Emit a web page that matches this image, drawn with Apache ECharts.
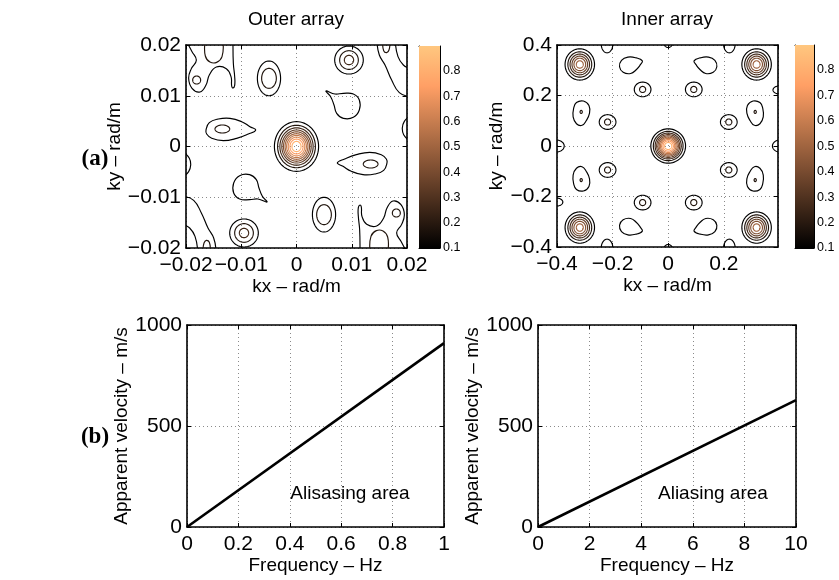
<!DOCTYPE html>
<html><head><meta charset="utf-8">
<script src="https://cdn.jsdelivr.net/npm/echarts@6/dist/echarts.min.js"></script>
<style>html,body{margin:0;padding:0;background:#fff}#c{width:839px;height:580px}</style>
</head><body><div id="c"></div>
<script>
// ================= DATA =================
// Contour rings: [level, kx, ky, rx, ry]  (rad/m)
const outerRings = [
  [0.10, 0, 0, 0.00400, 0.00490], [0.18, 0, 0, 0.00342, 0.00419], [0.26, 0, 0, 0.00301, 0.00368],
  [0.34, 0, 0, 0.00266, 0.00326], [0.42, 0, 0, 0.00236, 0.00289], [0.50, 0, 0, 0.00207, 0.00253],
  [0.58, 0, 0, 0.00179, 0.00219], [0.66, 0, 0, 0.00150, 0.00184], [0.74, 0, 0, 0.00119, 0.00146],
  [0.82, 0, 0, 0.00082, 0.00101],
  [0.10, -0.00498, 0.01343, 0.00210, 0.00342], [0.18, -0.00498, 0.01343, 0.00133, 0.00197],
  [0.10, 0.00498, -0.01343, 0.00210, 0.00342], [0.18, 0.00498, -0.01343, 0.00133, 0.00197],
  [0.10, 0.0095, 0.01704, 0.00259, 0.00276], [0.18, 0.0095, 0.01704, 0.00169, 0.00184], [0.26, 0.0095, 0.01704, 0.00084, 0.00092],
  [0.10, -0.0095, -0.01704, 0.00259, 0.00276], [0.18, -0.0095, -0.01704, 0.00169, 0.00184], [0.26, -0.0095, -0.01704, 0.00084, 0.00092],
  [0.18, -0.01342, 0.00345, 0.00133, 0.00079], [0.18, 0.01342, -0.00345, 0.00133, 0.00079],
  [0.18, -0.01807, 0.0131, 0.00072, 0.00079], [0.18, 0.01807, -0.0131, 0.00072, 0.00079]
];
// Irregular contours: level, closed, vertices [kx, ky]
const outerCurves = [
  {level: 0.10, closed: true, pts: [[-0.01638,0.00325],[-0.01578,0.0047],[-0.01415,0.00542],[-0.01204,0.00555],[-0.00992,0.00489],[-0.00842,0.00391],[-0.00739,0.00325],[-0.00872,0.00246],[-0.01083,0.00161],[-0.01324,0.00115],[-0.01535,0.00161],[-0.01626,0.00246]]},
  {level: 0.10, closed: true, pts: [[0.01638,-0.00325],[0.01578,-0.0047],[0.01415,-0.00542],[0.01204,-0.00555],[0.00992,-0.00489],[0.00842,-0.00391],[0.00739,-0.00325],[0.00872,-0.00246],[0.01083,-0.00161],[0.01324,-0.00115],[0.01535,-0.00161],[0.01626,-0.00246]]},
  {level: 0.10, closed: true, pts: [[0.00534,0.01094],[0.00697,0.01034],[0.00848,0.01048],[0.01029,0.01034],[0.01137,0.00916],[0.01137,0.00719],[0.01029,0.00575],[0.00848,0.00555],[0.00727,0.00654],[0.00679,0.00818],[0.00618,0.00982]]},
  {level: 0.10, closed: true, pts: [[-0.00534,-0.01094],[-0.00697,-0.01034],[-0.00848,-0.01048],[-0.01029,-0.01034],[-0.01137,-0.00916],[-0.01137,-0.00719],[-0.01029,-0.00575],[-0.00848,-0.00555],[-0.00727,-0.00654],[-0.00679,-0.00818],[-0.00618,-0.00982]]},
  {level: 0.10, closed: false, pts: [[-0.01982,0.0205],[-0.01891,0.01869],[-0.01813,0.01698],[-0.01903,0.01534],[-0.01952,0.01343],[-0.01891,0.01146],[-0.01747,0.01074],[-0.01638,0.01212],[-0.01578,0.01409],[-0.01451,0.01566],[-0.0127,0.01534],[-0.01185,0.01376],[-0.01173,0.01192],[-0.01149,0.01153],[-0.01119,0.01205],[-0.01119,0.01376],[-0.01143,0.01639],[-0.01149,0.0205]]},
  {level: 0.10, closed: false, pts: [[0.01982,-0.0205],[0.01891,-0.01869],[0.01813,-0.01698],[0.01903,-0.01534],[0.01952,-0.01343],[0.01891,-0.01146],[0.01747,-0.01074],[0.01638,-0.01212],[0.01578,-0.01409],[0.01451,-0.01566],[0.0127,-0.01534],[0.01185,-0.01376],[0.01173,-0.01192],[0.01149,-0.01153],[0.01119,-0.01205],[0.01119,-0.01376],[0.01143,-0.01639],[0.01149,-0.0205]]},
  {level: 0.18, closed: false, pts: [[-0.01656,0.0205],[-0.0165,0.01783],[-0.01566,0.01665],[-0.01445,0.01658],[-0.01348,0.0177],[-0.0133,0.0205]]},
  {level: 0.18, closed: false, pts: [[0.01656,-0.0205],[0.0165,-0.01783],[0.01566,-0.01665],[0.01445,-0.01658],[0.01348,-0.0177],[0.0133,-0.0205]]},
  {level: 0.10, closed: false, pts: [[0.01457,0.0205],[0.01499,0.01803],[0.01602,0.01606],[0.01722,0.0131],[0.01861,0.01061],[0.0205,0.00982]]},
  {level: 0.10, closed: false, pts: [[-0.01457,-0.0205],[-0.01499,-0.01803],[-0.01602,-0.01606],[-0.01722,-0.0131],[-0.01861,-0.01061],[-0.0205,-0.00982]]},
  {level: 0.18, closed: false, pts: [[0.0156,0.0205],[0.01578,0.01888],[0.01632,0.01849],[0.01674,0.01901],[0.01692,0.0205]]},
  {level: 0.18, closed: false, pts: [[-0.0156,-0.0205],[-0.01578,-0.01888],[-0.01632,-0.01849],[-0.01674,-0.01901],[-0.01692,-0.0205]]},
  {level: 0.10, closed: false, pts: [[0.01789,0.0205],[0.01837,0.0177],[0.01934,0.01606],[0.0205,0.0154]]},
  {level: 0.10, closed: false, pts: [[-0.01789,-0.0205],[-0.01837,-0.0177],[-0.01934,-0.01606],[-0.0205,-0.0154]]},
  {level: 0.10, closed: false, pts: [[-0.0205,-0.00102],[-0.0194,-0.00233],[-0.01915,-0.00365],[-0.01952,-0.00496],[-0.0205,-0.00594]]},
  {level: 0.10, closed: false, pts: [[0.0205,0.00102],[0.0194,0.00233],[0.01915,0.00365],[0.01952,0.00496],[0.0205,0.00594]]}
];

const innerRings = [
  [0.10, 0, 0, 0.0625, 0.0680], [0.18, 0, 0, 0.0535, 0.0582], [0.26, 0, 0, 0.0470, 0.0511],
  [0.34, 0, 0, 0.0416, 0.0453], [0.42, 0, 0, 0.0368, 0.0400], [0.50, 0, 0, 0.0323, 0.0352],
  [0.58, 0, 0, 0.0279, 0.0304], [0.66, 0, 0, 0.0235, 0.0256], [0.74, 0, 0, 0.0186, 0.0203],
  [0.82, 0, 0, 0.0129, 0.0140],
  [0.10, -0.318, 0.323, 0.053, 0.062], [0.18, -0.318, 0.323, 0.0429, 0.0502], [0.26, -0.318, 0.323, 0.0351, 0.0411],
  [0.34, -0.318, 0.323, 0.0281, 0.0329], [0.42, -0.318, 0.323, 0.0211, 0.0247], [0.50, -0.318, 0.323, 0.0125, 0.0146],
  [0.10, 0.318, 0.323, 0.053, 0.062], [0.18, 0.318, 0.323, 0.0429, 0.0502], [0.26, 0.318, 0.323, 0.0351, 0.0411],
  [0.34, 0.318, 0.323, 0.0281, 0.0329], [0.42, 0.318, 0.323, 0.0211, 0.0247], [0.50, 0.318, 0.323, 0.0125, 0.0146],
  [0.10, -0.318, -0.323, 0.053, 0.062], [0.18, -0.318, -0.323, 0.0429, 0.0502], [0.26, -0.318, -0.323, 0.0351, 0.0411],
  [0.34, -0.318, -0.323, 0.0281, 0.0329], [0.42, -0.318, -0.323, 0.0211, 0.0247], [0.50, -0.318, -0.323, 0.0125, 0.0146],
  [0.10, 0.318, -0.323, 0.053, 0.062], [0.18, 0.318, -0.323, 0.0429, 0.0502], [0.26, 0.318, -0.323, 0.0351, 0.0411],
  [0.34, 0.318, -0.323, 0.0281, 0.0329], [0.42, 0.318, -0.323, 0.0211, 0.0247], [0.50, 0.318, -0.323, 0.0125, 0.0146],
  [0.10, -0.092, 0.224, 0.030, 0.029], [0.18, -0.092, 0.224, 0.011, 0.012],
  [0.10, 0.092, 0.224, 0.030, 0.029], [0.18, 0.092, 0.224, 0.011, 0.012],
  [0.10, -0.092, -0.224, 0.030, 0.029], [0.18, -0.092, -0.224, 0.011, 0.012],
  [0.10, 0.092, -0.224, 0.030, 0.029], [0.18, 0.092, -0.224, 0.011, 0.012],
  [0.10, -0.218, 0.095, 0.030, 0.029], [0.18, -0.218, 0.095, 0.011, 0.012],
  [0.10, 0.218, 0.095, 0.030, 0.029], [0.18, 0.218, 0.095, 0.011, 0.012],
  [0.10, -0.218, -0.095, 0.030, 0.029], [0.18, -0.218, -0.095, 0.011, 0.012],
  [0.10, 0.218, -0.095, 0.030, 0.029], [0.18, 0.218, -0.095, 0.011, 0.012],
  [0.18, -0.313, 0.135, 0.004, 0.006], [0.18, 0.313, 0.135, 0.004, 0.006],
  [0.18, -0.313, -0.135, 0.004, 0.006], [0.18, 0.313, -0.135, 0.004, 0.006],
  [0.10, -0.22, 0.405, 0.021, 0.036], [0.10, 0, 0.41, 0.016, 0.020], [0.10, 0.22, 0.405, 0.021, 0.036],
  [0.10, -0.22, -0.405, 0.021, 0.036], [0.10, 0, -0.41, 0.016, 0.020], [0.10, 0.22, -0.405, 0.021, 0.036],
  [0.10, -0.405, 0, 0.031, 0.024], [0.10, -0.403, -0.222, 0.024, 0.016],
  [0.10, 0.403, 0, 0.028, 0.024], [0.10, 0.401, 0.222, 0.024, 0.016]
];
const innerCurves = [
  {level: 0.10, closed: true, pts: [[0.093,0.337],[0.115,0.349],[0.145,0.352],[0.168,0.339],[0.175,0.314],[0.162,0.292],[0.135,0.287],[0.115,0.302],[0.1,0.322]]},
  {level: 0.10, closed: true, pts: [[-0.093,0.337],[-0.115,0.349],[-0.145,0.352],[-0.168,0.339],[-0.175,0.314],[-0.162,0.292],[-0.135,0.287],[-0.115,0.302],[-0.1,0.322]]},
  {level: 0.10, closed: true, pts: [[0.093,-0.337],[0.115,-0.349],[0.145,-0.352],[0.168,-0.339],[0.175,-0.314],[0.162,-0.292],[0.135,-0.287],[0.115,-0.302],[0.1,-0.322]]},
  {level: 0.10, closed: true, pts: [[-0.093,-0.337],[-0.115,-0.349],[-0.145,-0.352],[-0.168,-0.339],[-0.175,-0.314],[-0.162,-0.292],[-0.135,-0.287],[-0.115,-0.302],[-0.1,-0.322]]},
  {level: 0.10, closed: true, pts: [[-0.34,0.15],[-0.33,0.172],[-0.305,0.178],[-0.285,0.16],[-0.283,0.13],[-0.295,0.1],[-0.31,0.082],[-0.33,0.088],[-0.342,0.115]]},
  {level: 0.10, closed: true, pts: [[0.34,0.15],[0.33,0.172],[0.305,0.178],[0.285,0.16],[0.283,0.13],[0.295,0.1],[0.31,0.082],[0.33,0.088],[0.342,0.115]]},
  {level: 0.10, closed: true, pts: [[-0.34,-0.15],[-0.33,-0.172],[-0.305,-0.178],[-0.285,-0.16],[-0.283,-0.13],[-0.295,-0.1],[-0.31,-0.082],[-0.33,-0.088],[-0.342,-0.115]]},
  {level: 0.10, closed: true, pts: [[0.34,-0.15],[0.33,-0.172],[0.305,-0.178],[0.285,-0.16],[0.283,-0.13],[0.295,-0.1],[0.31,-0.082],[0.33,-0.088],[0.342,-0.115]]}
];

// Colour scale (copper) and colorbar range
const copperColors = ['#000000', '#402819', '#805033', '#bf784c', '#ff9f65', '#ffc77f'];
const colorbarRange = [0.1, 0.898];

// Bottom panels: apparent velocity vs frequency
const freqOuter = [0, 1];
const velOuter = [0, 910];
const freqInner = [0, 10];
const velInner = [0, 628];
const noteText = ['Alisasing area', 'Aliasing area'];
const noteAt = [[0.634, 163], [6.78, 163]];

// ================= CHART =================
const FONT = "'Liberation Sans', Arial, Helvetica, sans-serif";
const MINUS = '\u2212';
function fmtDec(d) {
  return v => {
    if (Math.abs(v) < 1e-9) return '0';
    return (Math.round(v * Math.pow(10, d)) / Math.pow(10, d)).toFixed(d).replace('-', MINUS);
  };
}
const fmtPlain = v => String(Math.round(v * 10) / 10);

function frameAxis(gridIndex, position, min, max, interval, extra) {
  return Object.assign({
    type: 'value', gridIndex, position, min, max, interval,
    axisLine: {show: true, onZero: false, lineStyle: {color: '#000', width: 1.6}},
    axisTick: {show: true, inside: true, length: 4, lineStyle: {color: '#000', width: 1}},
    axisLabel: {show: false},
    splitLine: {show: false}
  }, extra || {});
}
function mainAxis(gridIndex, position, min, max, interval, fmt, name, nameGap, extra) {
  return frameAxis(gridIndex, position, min, max, interval, Object.assign({
    axisLabel: {show: true, fontSize: 21, color: '#000', fontFamily: FONT,
      margin: (position === 'bottom' ? 7 : 5), formatter: fmt},
    splitLine: {show: true, lineStyle: {color: '#8a8a8a', width: 1, type: [1, 3]}},
    name, nameLocation: 'middle', nameGap,
    nameTextStyle: {fontSize: 19, color: '#000', fontFamily: FONT}
  }, extra || {}));
}

const cbFrame = {show: true, onZero: false, lineStyle: {color: '#000', width: 1}};
const xAxis = [
  mainAxis(0, 'bottom', -0.02, 0.02, 0.01, fmtDec(2), 'kx \u2013 rad/m', 26),
  frameAxis(0, 'top', -0.02, 0.02, 0.01),
  frameAxis(1, 'bottom', 0, 1, 1, {axisTick: {show: false}, axisLine: cbFrame}),
  frameAxis(1, 'top', 0, 1, 1, {axisTick: {show: false}, axisLine: cbFrame}),
  mainAxis(2, 'bottom', -0.4, 0.395, 0.2, fmtDec(1), 'kx \u2013 rad/m', 26),
  frameAxis(2, 'top', -0.4, 0.395, 0.2),
  frameAxis(3, 'bottom', 0, 1, 1, {axisTick: {show: false}, axisLine: cbFrame}),
  frameAxis(3, 'top', 0, 1, 1, {axisTick: {show: false}, axisLine: cbFrame}),
  mainAxis(4, 'bottom', 0, 1, 0.2, fmtPlain, 'Frequency \u2013 Hz', 28),
  frameAxis(4, 'top', 0, 1, 0.2),
  mainAxis(5, 'bottom', 0, 10, 2, fmtPlain, 'Frequency \u2013 Hz', 28),
  frameAxis(5, 'top', 0, 10, 2)
];
xAxis[4].axisLabel.showMaxLabel = false;

const cbLabel = {show: true, fontSize: 12.5, color: '#000', fontFamily: FONT, margin: 3,
  formatter: v => (Math.round(v * 10) / 10).toFixed(1), showMaxLabel: false};
const cbTick = {show: true, inside: true, length: 3, lineStyle: {color: '#000', width: 1}};

const yAxis = [
  mainAxis(0, 'left', -0.02, 0.02, 0.01, fmtDec(2), 'ky \u2013 rad/m', 58),
  frameAxis(0, 'right', -0.02, 0.02, 0.01),
  frameAxis(1, 'left', colorbarRange[0], colorbarRange[1], 0.1, {axisTick: cbTick, axisLine: cbFrame}),
  frameAxis(1, 'right', colorbarRange[0], colorbarRange[1], 0.1, {axisTick: cbTick, axisLine: cbFrame, axisLabel: cbLabel}),
  mainAxis(2, 'left', -0.4, 0.4, 0.2, fmtDec(1), 'ky \u2013 rad/m', 45),
  frameAxis(2, 'right', -0.4, 0.4, 0.2),
  frameAxis(3, 'left', colorbarRange[0], colorbarRange[1], 0.1, {axisTick: cbTick, axisLine: cbFrame}),
  frameAxis(3, 'right', colorbarRange[0], colorbarRange[1], 0.1, {axisTick: cbTick, axisLine: cbFrame, axisLabel: cbLabel}),
  mainAxis(4, 'left', 0, 1000, 500, fmtPlain, 'Apparent velocity \u2013 m/s', 52),
  frameAxis(4, 'right', 0, 1000, 500),
  mainAxis(5, 'left', 0, 1000, 500, fmtPlain, 'Apparent velocity \u2013 m/s', 50),
  frameAxis(5, 'right', 0, 1000, 500)
];

const CONTOUR_W = 1.15;
function ringItem(params, api) {
  const cx = api.value(1), cy = api.value(2), rx = api.value(3), ry = api.value(4);
  const pts = [];
  for (let i = 0; i <= 72; i++) {
    const t = i * Math.PI / 36;
    pts.push(api.coord([cx + rx * Math.cos(t), cy + ry * Math.sin(t)]));
  }
  return {type: 'polyline', shape: {points: pts}, style: {stroke: api.visual('color'), fill: null, lineWidth: CONTOUR_W}};
}
function curveItemFor(list) {
  return function (params, api) {
    const c = list[params.dataIndex];
    const pts = c.pts.map(p => api.coord(p));
    return {
      type: c.closed ? 'polygon' : 'polyline',
      shape: {points: pts, smooth: 0.45},
      style: {stroke: api.visual('color'), fill: 'none', lineWidth: CONTOUR_W}
    };
  };
}
function colorbarItem(params, api) {
  const p0 = api.coord([api.value(0), api.value(1)]);
  const p1 = api.coord([api.value(2), api.value(3)]);
  const stops = copperColors.map((c, i) => ({offset: i / (copperColors.length - 1), color: c}));
  return {
    type: 'rect',
    shape: {x: p0[0], y: p1[1], width: p1[0] - p0[0], height: p0[1] - p1[1]},
    style: {fill: new echarts.graphic.LinearGradient(0, 1, 0, 0, stops)}
  };
}
function noteItemFor(idx) {
  return function (params, api) {
    const p = api.coord([api.value(0), api.value(1)]);
    return {
      type: 'text', x: p[0], y: p[1],
      style: {text: noteText[idx], font: '19px ' + FONT, fill: '#000', align: 'center', verticalAlign: 'middle'}
    };
  };
}

const series = [
  {type: 'custom', xAxisIndex: 0, yAxisIndex: 0, clip: true, renderItem: ringItem,
    encode: {x: 1, y: 2}, data: outerRings, silent: true},
  {type: 'custom', xAxisIndex: 0, yAxisIndex: 0, clip: true, renderItem: curveItemFor(outerCurves),
    encode: {x: 1, y: 2}, data: outerCurves.map(c => [c.level, c.pts[0][0], c.pts[0][1]]), silent: true},
  {type: 'custom', xAxisIndex: 4, yAxisIndex: 4, clip: true, renderItem: ringItem,
    encode: {x: 1, y: 2}, data: innerRings, silent: true},
  {type: 'custom', xAxisIndex: 4, yAxisIndex: 4, clip: true, renderItem: curveItemFor(innerCurves),
    encode: {x: 1, y: 2}, data: innerCurves.map(c => [c.level, c.pts[0][0], c.pts[0][1]]), silent: true},
  {type: 'custom', xAxisIndex: 2, yAxisIndex: 3, renderItem: colorbarItem, silent: true,
    encode: {x: 0, y: 1}, data: [[0, colorbarRange[0], 1, colorbarRange[1]]]},
  {type: 'custom', xAxisIndex: 6, yAxisIndex: 7, renderItem: colorbarItem, silent: true,
    encode: {x: 0, y: 1}, data: [[0, colorbarRange[0], 1, colorbarRange[1]]]},
  {type: 'line', xAxisIndex: 8, yAxisIndex: 8, symbol: 'none', silent: true,
    lineStyle: {color: '#000', width: 2.6}, data: freqOuter.map((f, i) => [f, velOuter[i]])},
  {type: 'line', xAxisIndex: 10, yAxisIndex: 10, symbol: 'none', silent: true,
    lineStyle: {color: '#000', width: 2.6}, data: freqInner.map((f, i) => [f, velInner[i]])},
  {type: 'custom', xAxisIndex: 8, yAxisIndex: 8, renderItem: noteItemFor(0), silent: true,
    encode: {x: 0, y: 1}, data: [noteAt[0]]},
  {type: 'custom', xAxisIndex: 10, yAxisIndex: 10, renderItem: noteItemFor(1), silent: true,
    encode: {x: 0, y: 1}, data: [noteAt[1]]}
];

const chart = echarts.init(document.getElementById('c'), null, {renderer: 'canvas'});
chart.setOption({
  animation: false,
  backgroundColor: '#fff',
  grid: [
    {left: 186, top: 45, width: 221, height: 203},
    {left: 419, top: 46, width: 21, height: 202},
    {left: 557, top: 45, width: 221, height: 202},
    {left: 795, top: 45, width: 19, height: 203},
    {left: 187, top: 325, width: 257, height: 202},
    {left: 538, top: 325, width: 258, height: 202}
  ],
  xAxis, yAxis,
  visualMap: [{
    type: 'continuous', show: false, min: 0.1, max: 0.9, dimension: 0,
    seriesIndex: [0, 1, 2, 3], inRange: {color: copperColors}
  }],
  graphic: [
    {type: 'text', x: 296, y: 20, style: {text: 'Outer array', font: '19px ' + FONT, fill: '#000', textAlign: 'center', textVerticalAlign: 'middle'}},
    {type: 'text', x: 667, y: 20, style: {text: 'Inner array', font: '19px ' + FONT, fill: '#000', textAlign: 'center', textVerticalAlign: 'middle'}},
    {type: 'text', x: 95, y: 159, style: {text: '(a)', font: 'bold 23px "Liberation Serif", "Times New Roman", serif', fill: '#000', textAlign: 'center', textVerticalAlign: 'middle'}},
    {type: 'text', x: 95, y: 437, style: {text: '(b)', font: 'bold 23px "Liberation Serif", "Times New Roman", serif', fill: '#000', textAlign: 'center', textVerticalAlign: 'middle'}}
  ],
  series
});
</script>
</body></html>
